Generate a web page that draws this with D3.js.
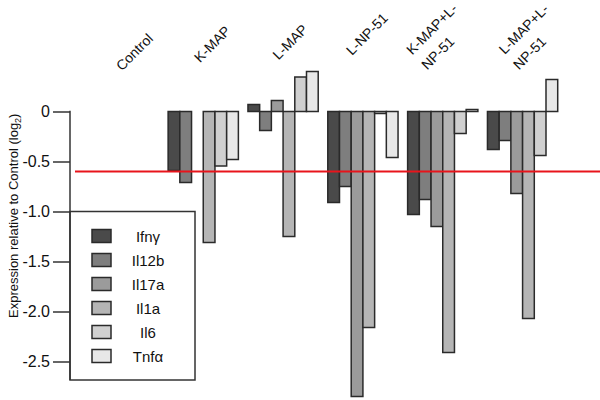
<!DOCTYPE html>
<html><head><meta charset="utf-8">
<script src="https://cdn.jsdelivr.net/npm/d3@7"></script>
<style>
body{margin:0;background:#fff}
text{font-family:"Liberation Sans",Arial,sans-serif;fill:#111}
</style>
</head><body>
<svg id="c" width="600" height="400"></svg>
<script>
// ---- data ----
const categories = ["Control","K-MAP","L-MAP","L-NP-51","K-MAP+L-NP-51","L-MAP+L-NP-51"];
const categoryLines = [["Control"],["K-MAP"],["L-MAP"],["L-NP-51"],["K-MAP+L-","NP-51"],["L-MAP+L-","NP-51"]];
const genes = ["Ifnγ","Il12b","Il17a","Il1a","Il6","Tnfα"];
const ifng  = [0, -0.59,  0.07, -0.91, -1.03, -0.38];
const il12b = [0, -0.71, -0.19, -0.75, -0.88, -0.29];
const il17a = [0,  null,  0.11, -2.85, -1.15, -0.82];
const il1a  = [0, -1.31, -1.25, -2.16, -2.41, -2.07];
const il6   = [0, -0.545, 0.345, -0.02, -0.22, -0.44];
const tnfa  = [0, -0.48,  0.40, -0.46,  0.02,  0.32];
const threshold = -0.6;
const yTicks = [0, -0.5, -1.0, -1.5, -2.0, -2.5];
const yTickLabels = ["0","-0.5","-1.0","-1.5","-2.0","-2.5"];

// ---- layout / style ----
const seriesValues = [ifng, il12b, il17a, il1a, il6, tnfa];
const colors = ["#4a4a4a","#7e7e7e","#9b9b9b","#b5b5b5","#d0d0d0","#e8e8e8"];
const labelNudge = [[11,52],[9,44],[7,42],[4,34],[-8,41],[4,41]];

const svg = d3.select("#c");
const x0 = d3.scaleBand().domain(categories).range([83.5, 562.5]).paddingInner(0.12).paddingOuter(0.06);
const x1 = d3.scaleBand().domain(genes).range([0, x0.bandwidth()]).padding(0);
const y = d3.scaleLinear().domain([0, -2.5]).range([111.5, 361.5]);
const yBottom = 380;

// y axis
const yAxis = d3.axisLeft(y).tickValues(yTicks).tickFormat((d,i)=>yTickLabels[i]).tickSize(17).tickPadding(3);
const ga = svg.append("g").attr("transform","translate(70,0)").call(yAxis);
ga.select(".domain").remove();
ga.selectAll(".tick line").attr("stroke","#333").attr("stroke-width",1.5);
ga.selectAll(".tick text").style("font-size","16px").attr("fill","#111").style("font-family","'Liberation Sans',Arial,sans-serif");
svg.append("line").attr("x1",70).attr("x2",70).attr("y1",y(0)-0.75).attr("y2",yBottom)
  .attr("stroke","#333").attr("stroke-width",1.5);

// axis title
const title = svg.append("text").attr("transform",`translate(18,${(y(0)+yBottom)/2 - 30}) rotate(-90)`)
  .attr("text-anchor","middle").style("font-size","13px");
title.append("tspan").text("Expression relative to Control (log");
title.append("tspan").text("2").attr("dy",3).style("font-size","9px");
title.append("tspan").text(")").attr("dy",-3);

// legend box
svg.append("rect").attr("x",70).attr("y",y(-1.0)).attr("width",125).attr("height",yBottom - y(-1.0))
  .attr("fill","none").attr("stroke","#333").attr("stroke-width",1.5);
const leg = svg.append("g");
genes.forEach((g,i)=>{
  const cy = 236 + i*24;
  leg.append("rect").attr("x",92).attr("y",cy-6.5).attr("width",19).attr("height",13)
    .attr("fill",colors[i]).attr("stroke","#2a2a2a").attr("stroke-width",1.5);
  leg.append("text").attr("x",148).attr("y",cy+5.5).attr("text-anchor","middle")
    .style("font-size","15px").text(g);
});

// bars
const gb = svg.append("g");
categories.forEach((c,ci)=>{
  genes.forEach((g,gi)=>{
    const v = seriesValues[gi][ci];
    if (v === null) return;
    const x = x0(c) + x1(g);
    gb.append("rect").attr("x",x).attr("y",Math.min(y(0),y(v))).attr("width",x1.bandwidth())
      .attr("height",Math.abs(y(v)-y(0)))
      .attr("fill",colors[gi]).attr("stroke","#2a2a2a").attr("stroke-width",1.5);
  });
});

// threshold line
svg.append("line").attr("x1",75).attr("x2",600).attr("y1",y(threshold)).attr("y2",y(threshold))
  .attr("stroke","#e8141b").attr("stroke-width",2);

// category labels
categories.forEach((c,ci)=>{
  const cx = x0(c) + x0.bandwidth()/2 + labelNudge[ci][0];
  const cy = labelNudge[ci][1];
  const lines = categoryLines[ci];
  lines.forEach((ln,li)=>{
    const off = lines.length===1 ? 0 : (li===0 ? -1 : 1);
    svg.append("text").attr("transform",`translate(${cx+off*3},${cy+off*12}) rotate(-45)`)
      .attr("text-anchor","middle").attr("dy","0.35em").style("font-size","14px").text(ln);
  });
});
</script>
</body></html>
